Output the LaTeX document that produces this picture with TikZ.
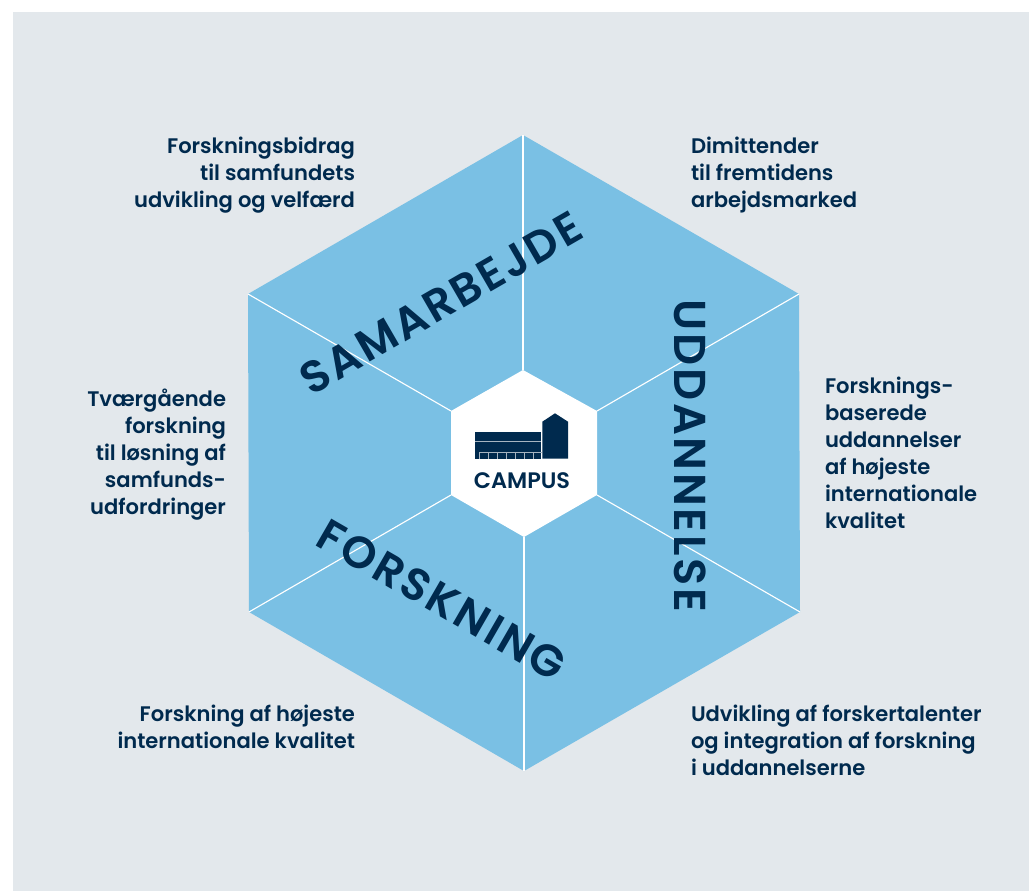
\documentclass[tikz,border=0pt]{standalone}
\usepackage{fontspec}
\setmainfont{Poppins}[BoldFont={Poppins SemiBold}]
\newfontfamily\bigfont{Poppins SemiBold}[LetterSpace=6]
\definecolor{bgc}{HTML}{E3E8EC}
\definecolor{hexc}{HTML}{7AC0E4}
\definecolor{navy}{HTML}{002A4E}
\tikzset{x=0.75pt,y=-0.75pt,
 lab/.style={text=navy,font=\fontsize{15.8pt}{20.3pt}\selectfont\bfseries,inner sep=0pt,outer sep=0pt},
 labl/.style={lab,align=left,anchor=north west},
 labr/.style={lab,align=right,anchor=north east},
 big/.style={text=navy,inner sep=0pt,font=\fontsize{33.5pt}{33.5pt}\bigfont},
 spoke/.style={draw=white,line width=0.85pt},
 winline/.style={draw=navy!35!white,line width=0.75pt}}
\begin{document}
\begin{tikzpicture}
\useasboundingbox (0,0) rectangle (1029,891);
\fill[bgc] (13,12) rectangle (1029,891);
\coordinate (o1) at (523,135);\coordinate (o2) at (799,294);\coordinate (o3) at (800,612);
\coordinate (o4) at (524,771);\coordinate (o5) at (249,612);\coordinate (o6) at (248,294);
\coordinate (i1) at (523,370);\coordinate (i2) at (597,411);\coordinate (i3) at (597,495);
\coordinate (i4) at (524,537);\coordinate (i5) at (451,495);\coordinate (i6) at (451,411);
\fill[hexc] (o1)--(o2)--(o3)--(o4)--(o5)--(o6)--cycle;
\foreach \k in {1,...,6}{\draw[spoke] (o\k)--(i\k);}
\fill[white] (i1)--(i2)--(i3)--(i4)--(i5)--(i6)--cycle;
% icon
\fill[navy] (475,432.3) rectangle (541,458.7);
\fill[navy] (542.3,458.7)--(542.3,421.7)--(555,413.3)--(568,421.7)--(568,458.7)--cycle;
\draw[winline] (475,441.4)--(541,441.4);
\draw[winline] (479,458.7)--(479,453)--(541.5,453);
\foreach \xx in {488,497,506,515,524,533}{\draw[winline] (\xx,453)--(\xx,458.7);}
\node[text=navy,inner sep=0pt,font=\fontsize{16.8pt}{16.8pt}\selectfont\bfseries] (campus) at (522,481) {CAMPUS};
% big
\node[big,rotate=30] (sam) at (441,303) {SAMARBEJDE};
\node[big,rotate=-90] (udd) at (690,456) {UDDANNELSE};
\node[big,rotate=-30] (for) at (442,600) {FORSKNING};
% labels
\node[labr] (a) at (355,137) {Forskningsbidrag\\til samfundets\\udvikling og velfærd};
\node[labl] (b) at (691,137) {Dimittender\\til fremtidens\\arbejdsmarked};
\node[labl] (c) at (825,377) {Forsknings-\\baserede\\uddannelser\\af højeste\\internationale\\kvalitet};
\node[labr] (d) at (226,389) {Tværgående\\forskning\\til løsning af\\samfunds-\\udfordringer};
\node[labr] (e) at (355,705) {Forskning af højeste\\internationale kvalitet};
\node[labl] (f) at (691,705) {Udvikling af forskertalenter\\og integration af forskning\\i uddannelserne};
\end{tikzpicture}
\end{document}
